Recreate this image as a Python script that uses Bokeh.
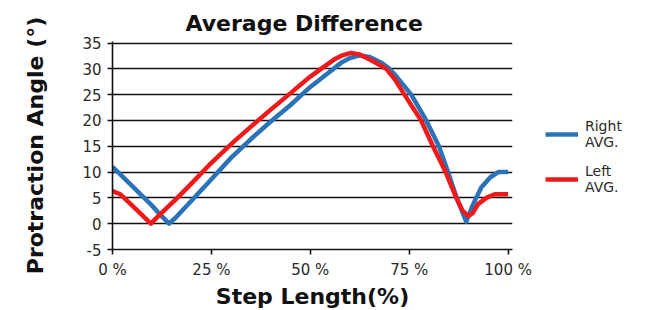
from bokeh.plotting import figure
from bokeh.models import Range1d, FixedTicker, Legend, LegendItem
from bokeh.embed import file_html
from bokeh.resources import INLINE

# --- data ---
right_x = [0, 5, 10, 12, 14.3, 16, 20, 25, 30, 35, 40, 45, 50, 55, 58, 60, 62.5, 65, 68, 70,
           72, 75.5, 79.3, 82.5, 84.8, 87, 89.4, 91, 93.2, 95.5, 97.5, 100]
right_avg = [11.0, 7.3, 3.5, 1.8, 0.0, 1.2, 4.5, 8.6, 12.8, 16.4, 19.8, 23.0, 26.5, 29.5, 31.3, 32.1,
             32.6, 32.3, 31.2, 30.0, 28.3, 25.0, 20.0, 15.0, 10.0, 5.0, 0.4, 3.5, 7.0, 9.0, 10.0, 10.0]

left_x = [0, 2, 5, 9.7, 12, 16, 20, 25, 30.8, 35, 40, 45, 50, 52.7, 56, 58, 60.3, 62.5, 65, 67,
          69.2, 71.5, 73.8, 78, 81, 84.2, 86.9, 88.5, 89.9, 91, 92.4, 94.5, 96.6, 100]
left_avg = [6.3, 5.7, 3.5, 0.0, 1.8, 4.7, 7.8, 11.8, 16.0, 18.8, 22.1, 25.3, 28.5, 30.0, 31.8, 32.6,
            33.1, 32.8, 31.8, 31.0, 30.0, 27.8, 25.0, 20.0, 15.0, 10.0, 5.0, 2.5, 1.5, 2.0, 3.8, 5.0, 5.7, 5.7]

x_ticks = [0, 25, 50, 75, 100]
x_tick_labels = ["0 %", "25 %", "50 %", "75 %", "100 %"]
y_ticks = [-5, 0, 5, 10, 15, 20, 25, 30, 35]
y_tick_labels = ["-5", "0", "5", "10", "15", "20", "25", "30", "35"]

series_names = ["Right\nAVG.", "Left\nAVG."]
series_colors = ["#2B73B8", "#F01A1A"]

FONT = "DejaVu Sans"

p = figure(frame_width=400, frame_height=208, output_backend="svg", toolbar_location=None,
           x_range=Range1d(0, 101.1), y_range=Range1d(-5, 35.3),
           min_border_left=112, min_border_right=126, min_border_top=41, min_border_bottom=58,
           title="Average Difference")
p.outline_line_color = None

p.title.text_font = FONT
p.title.text_font_size = "22px"
p.title.text_font_style = "bold"
p.title.align = "left"
p.title.offset = 73
p.title.text_color = "#111111"
p.title.standoff = 11

# axes
for ax in (p.xaxis[0], p.yaxis[0]):
    ax.axis_line_color = "#111111"
    ax.axis_line_width = 1.6
    ax.major_tick_line_color = "#111111"
    ax.major_tick_line_width = 1.6
    ax.major_tick_out = 5
    ax.major_tick_in = 0
    ax.minor_tick_line_color = None
    ax.major_label_text_font = FONT
    ax.major_label_text_font_size = "15px"
    ax.major_label_text_color = "#2a2a2a"
    ax.axis_label_text_font = FONT
    ax.axis_label_text_font_style = "bold"
    ax.axis_label_text_color = "#111111"

p.xaxis.ticker = FixedTicker(ticks=x_ticks)
p.xaxis.major_label_overrides = {t: s for t, s in zip(x_ticks, x_tick_labels)}
p.xaxis.axis_label = "Step Length(%)"
p.xaxis.axis_label_text_font_size = "22px"
p.xaxis.major_label_standoff = 6
p.xaxis.axis_label_standoff = 2

p.yaxis.ticker = FixedTicker(ticks=y_ticks)
p.yaxis.major_label_overrides = {t: s for t, s in zip(y_ticks, y_tick_labels)}
p.yaxis.axis_label = "Protraction Angle (°)"
p.yaxis.axis_label_text_font_size = "22px"
p.yaxis.major_label_standoff = 6
p.yaxis.axis_label_standoff = 31

p.xgrid.grid_line_color = None
p.ygrid.grid_line_color = "#111111"
p.ygrid.grid_line_width = 1.6

r_right = p.line(right_x, right_avg, line_color=series_colors[0], line_width=4.5, line_join="round")
r_left = p.line(left_x, left_avg, line_color=series_colors[1], line_width=4.5, line_join="round")

legend = Legend(items=[LegendItem(label=series_names[0], renderers=[r_right]),
                       LegendItem(label=series_names[1], renderers=[r_left])],
                location=(33, 54), padding=0, margin=0, spacing=13,
                glyph_width=33, glyph_height=20,
                label_text_font=FONT, label_text_font_size="14px",
                label_text_line_height=1.3,
                label_text_color="#2a2a2a", label_standoff=7,
                border_line_color=None, background_fill_alpha=0)
p.add_layout(legend, "right")

open("out.html", "w").write(file_html(p, INLINE))
